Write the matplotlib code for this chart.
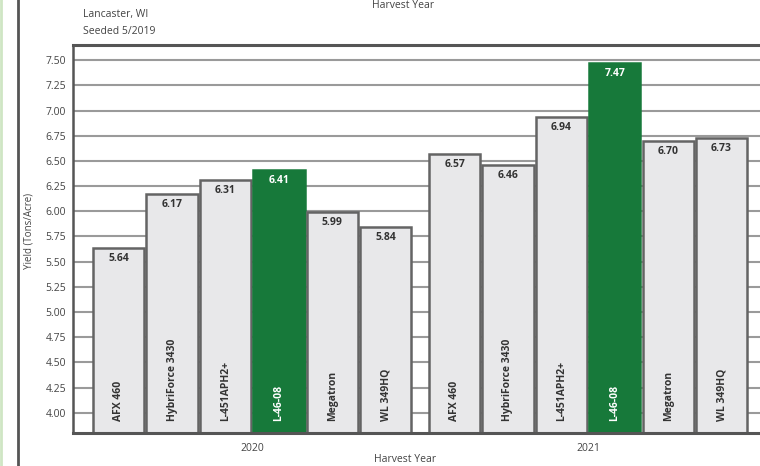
import numpy as np
import matplotlib.pyplot as plt
from matplotlib.lines import Line2D

plt.rcParams['font.family'] = ['Open Sans', 'DejaVu Sans']

# data
years = ['2020', '2021']
varieties = ['AFX 460', 'HybriForce 3430', 'L-451APH2+', 'L-46-08', 'Megatron', 'WL 349HQ']
yield_2020 = [5.64, 6.17, 6.31, 6.41, 5.99, 5.84]
yield_2021 = [6.57, 6.46, 6.94, 7.47, 6.70, 6.73]
highlight = 'L-46-08'
yticks = np.arange(4.0, 7.51, 0.25)

gray_fill = '#e8e8ea'
gray_edge = '#646464'
green = '#17793a'
txt = '#444444'

fig = plt.figure(figsize=(7.6, 4.66), dpi=100)
ax = fig.add_axes([73/760, 1 - 433/466, 687/760, 388/466])

group_offset = [0.0, 6.29]
for g, vals in enumerate([yield_2020, yield_2021]):
    for i, (name, v) in enumerate(zip(varieties, vals)):
        x = group_offset[g] + i
        is_hi = name == highlight
        fc = green if is_hi else gray_fill
        ec = green if is_hi else gray_edge
        tc = 'white' if is_hi else '#333333'
        ax.bar(x, v, width=0.96, bottom=0, color=fc, edgecolor=ec, linewidth=1.8, zorder=2)
        ax.text(x, v - 0.05, f'{v:.2f}', ha='center', va='top', fontsize=7.5,
                fontweight='bold', color=tc, zorder=3)
        ax.text(x, 3.92, name, rotation=90, rotation_mode='anchor', ha='left', va='center',
                fontsize=7.5, fontweight='bold', color=tc, zorder=3)
    ax.text(group_offset[g] + 2.5, -0.025, years[g], transform=ax.get_xaxis_transform(),
            ha='center', va='top', fontsize=7.5, color=txt)

ax.set_xlim(-0.856, 12.01)
ax.set_ylim(3.80, 7.65)
ax.set_yticks(yticks)
ax.set_yticklabels([f'{t:.2f}' for t in yticks], fontsize=7.5, color=txt)
ax.tick_params(axis='y', length=0, pad=5)
ax.set_xticks([])
ax.grid(axis='y', color='#9a9a9a', linewidth=1.5)
ax.set_axisbelow(True)
for s in ['top', 'bottom']:
    ax.spines[s].set_linewidth(2.2)
    ax.spines[s].set_color('#555555')
ax.spines['left'].set_linewidth(1.8)
ax.spines['left'].set_color('#555555')
ax.spines['right'].set_visible(False)

ax.set_ylabel('Yield (Tons/Acre)', fontsize=7, color=txt)
ax.yaxis.set_label_coords(-0.056, 0.52)

fig.text(405/760, 1 - 460/466, 'Harvest Year', ha='center', va='center', fontsize=7.5, color=txt)
fig.text(403/760, 1 - 5/466, 'Harvest Year', ha='center', va='center', fontsize=7.5, color=txt)
fig.text(83/760, 1 - 15/466, 'Lancaster, WI', ha='left', va='center', fontsize=7.5, color=txt)
fig.text(83/760, 1 - 32/466, 'Seeded 5/2019', ha='left', va='center', fontsize=7.5, color=txt)

# frame line on the left
fig.add_artist(Line2D([18/760, 18/760], [0, 1], color='#555555', linewidth=2))
fig.add_artist(Line2D([1/760, 1/760], [0, 1], color='#cfe6c4', linewidth=2))

fig.savefig('out.png', dpi=100)
